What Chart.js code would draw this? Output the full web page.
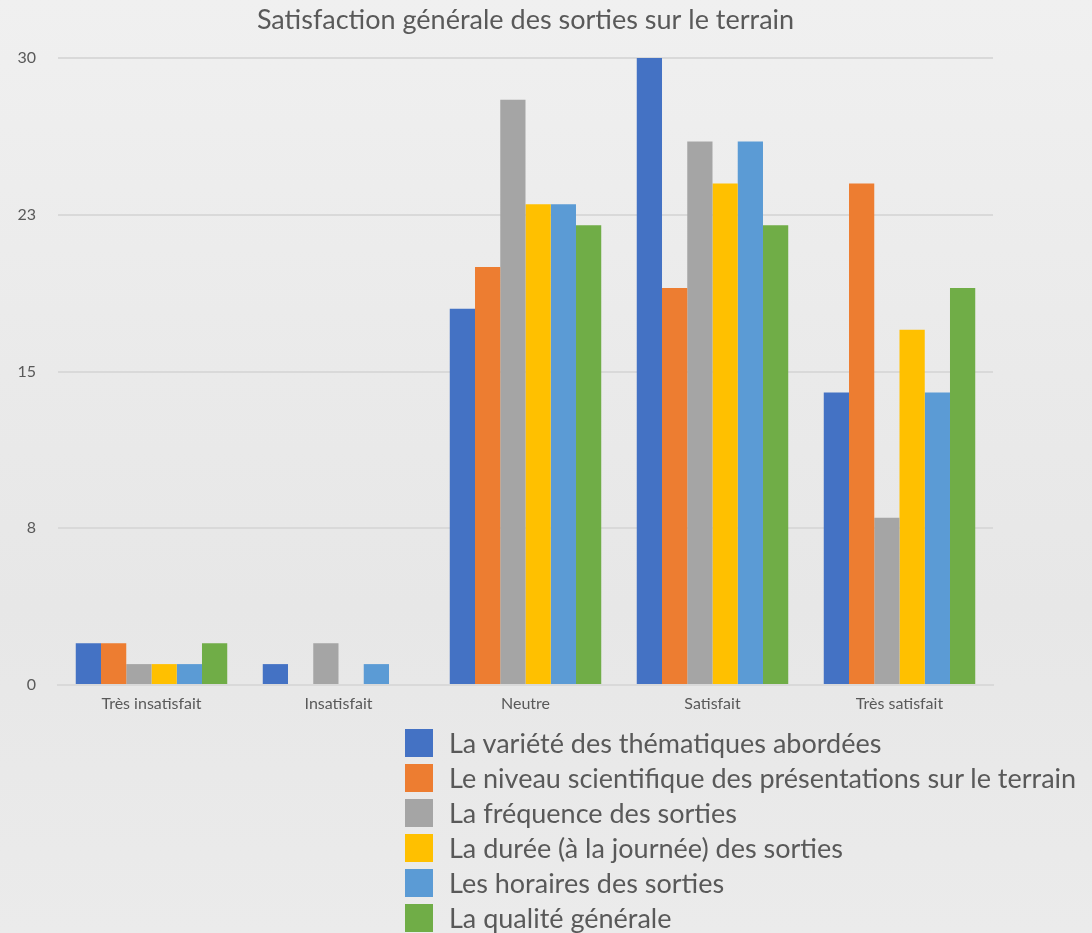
<!DOCTYPE html>
<html>
<head>
<meta charset="utf-8">
<script src="https://cdn.jsdelivr.net/npm/chart.js@4/dist/chart.umd.min.js"></script>
<style>
  html, body { margin: 0; padding: 0; }
  body {
    width: 1092px; height: 933px; overflow: hidden; position: relative;
    background: linear-gradient(180deg, #f0f0f0 0%, #eaeaea 40%, #e7e7e7 65%, #ebebeb 100%);
    font-family: Lato, "Open Sans", sans-serif;
  }
  #wrap { position: absolute; left: 0; top: 0; width: 1092px; height: 730px; }
  #legend { position: absolute; left: 405px; top: 725px; color: #595959; font-size: 27px; }
  .item { display: flex; align-items: center; height: 35px; white-space: nowrap; }
  .box { width: 28px; height: 28px; margin-right: 16px; flex: none; }
</style>
</head>
<body>
<div id="wrap"><canvas id="c" width="1092" height="730"></canvas></div>
<div id="legend"></div>
<script>
const titleText = "Satisfaction générale des sorties sur le terrain";
const categories = ["Très insatisfait", "Insatisfait", "Neutre", "Satisfait", "Très satisfait"];
const yTickValues = [0, 7.5, 15, 22.5, 30];
const yTickLabels = ["0", "8", "15", "23", "30"];

const seriesNames = [
  "La variété des thématiques abordées",
  "Le niveau scientifique des présentations sur le terrain",
  "La fréquence des sorties",
  "La durée (à la journée) des sorties",
  "Les horaires des sorties",
  "La qualité générale"
];
const seriesColors = ["#4472C4", "#ED7D31", "#A5A5A5", "#FFC000", "#5B9BD5", "#70AD47"];

const varieteThematiques = [2, 1, 18, 30, 14];
const niveauScientifique = [2, 0, 20, 19, 24];
const frequenceSorties   = [1, 2, 28, 26, 8];
const dureeSorties       = [1, 0, 23, 24, 17];
const horairesSorties    = [1, 1, 23, 26, 14];
const qualiteGenerale    = [2, 0, 22, 22, 19];

const seriesValues = [varieteThematiques, niveauScientifique, frequenceSorties, dureeSorties, horairesSorties, qualiteGenerale];

const textColor = "#595959";
const gridColor = "#d9d9d9";

const chart = new Chart(document.getElementById("c"), {
  type: "bar",
  data: {
    labels: categories,
    datasets: seriesNames.map((name, i) => ({
      label: name,
      data: seriesValues[i],
      backgroundColor: seriesColors[i],
      borderWidth: 0,
      categoryPercentage: 0.81,
      barPercentage: 1.0
    }))
  },
  options: {
    responsive: false,
    animation: false,
    layout: { padding: { left: 0, right: 99, top: 0, bottom: 0 } },
    plugins: {
      legend: { display: false },
      tooltip: { enabled: false },
      title: {
        display: true,
        text: titleText,
        fullSize: false,
        color: textColor,
        font: { family: "Lato", size: 27, weight: "normal" },
        padding: { top: 4, bottom: 21.6 }
      }
    },
    scales: {
      x: {
        grid: { display: false, drawTicks: false },
        border: { display: true, color: gridColor, width: 2 },
        ticks: { color: textColor, font: { family: "Lato", size: 16 }, padding: 9 },
        afterFit: (s) => { s.height = 45; }
      },
      y: {
        min: 0, max: 30,
        afterBuildTicks: (s) => { s.ticks = yTickValues.map(v => ({ value: v })); },
        grid: { color: gridColor, lineWidth: 2, drawTicks: false },
        border: { display: false },
        ticks: {
          color: textColor, font: { family: "Lato", size: 16 }, padding: 22,
          callback: (v) => { const i = yTickValues.indexOf(v); return i >= 0 ? yTickLabels[i] : ""; }
        },
        afterFit: (s) => { s.width = 58; }
      }
    }
  }
});

const legendEl = document.getElementById("legend");
chart.data.datasets.forEach(ds => {
  const row = document.createElement("div");
  row.className = "item";
  const box = document.createElement("span");
  box.className = "box";
  box.style.background = ds.backgroundColor;
  const txt = document.createElement("span");
  txt.textContent = ds.label;
  row.appendChild(box);
  row.appendChild(txt);
  legendEl.appendChild(row);
});
</script>
</body>
</html>
